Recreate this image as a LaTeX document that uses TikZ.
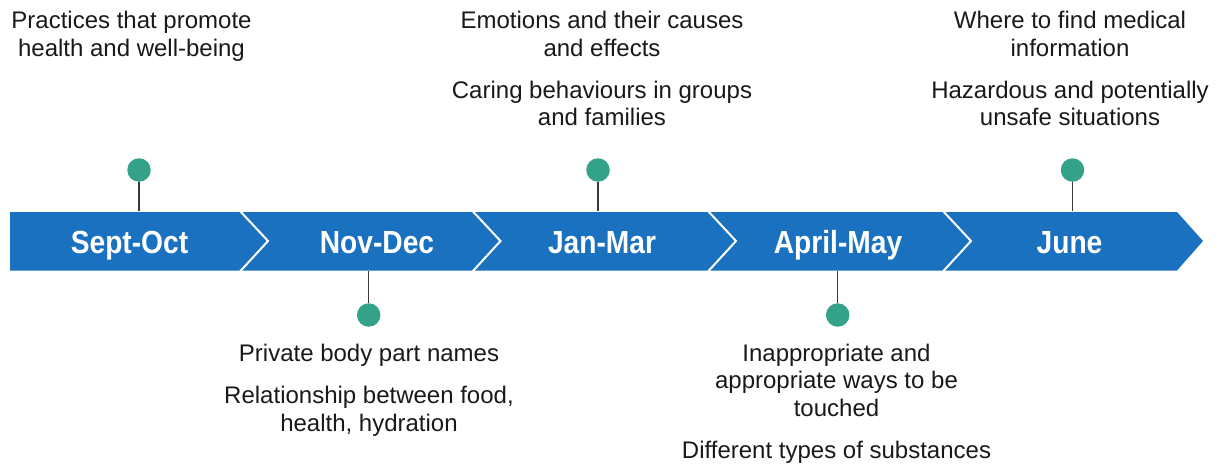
\documentclass[tikz,border=0pt]{standalone}
\usepackage{fontspec}
\setmainfont{Liberation Sans}
\newfontfamily\condbold[FakeStretch=0.88]{Liberation Sans Bold}
\definecolor{bandblue}{HTML}{1A71C0}
\definecolor{dotgreen}{HTML}{34A288}
\definecolor{stemgray}{HTML}{3A3A3A}
\tikzset{
  month/.style={anchor=base, text=white, inner sep=0pt, font=\condbold\fontsize{32}{36}\selectfont},
  topic/.style={anchor=base, align=center, inner sep=0pt, text=black!90, font=\fontsize{24}{27.5}\selectfont},
  pin/.style={circle, fill=dotgreen, minimum size=23.5pt, inner sep=0pt},
  stem/.style={draw=stemgray, line width=1.5pt},
  chev/.style={draw=white, line width=2pt},
}
\begin{document}
\begin{tikzpicture}[x=1pt, y=-1pt]
\useasboundingbox (0,0) rectangle (1222,466);
% band
\fill[bandblue] (10,212) -- (1177,212) -- (1203,241) -- (1177,270.5) -- (10,270.5) -- cycle;
\foreach \cx in {240,472.5,708,943}{
  \draw[chev] (\cx,211) -- (\cx+28,241) -- (\cx,271.5);
}
% month labels
\node[month] (m1) at (129.5,253) {Sept-Oct};
\node[month] (m2) at (377,253) {Nov-Dec};
\node[month] (m3) at (602,253) {Jan-Mar};
\node[month] (m4) at (838,253) {April-May};
\node[month] (m5) at (1069.5,253) {June};
% pins
\node[pin] (p1) at (139,170) {};
\node[pin] (p2) at (368.7,315) {};
\node[pin] (p3) at (598,170) {};
\node[pin] (p4) at (837.7,315) {};
\node[pin] (p5) at (1072.5,170) {};
\coordinate (b1) at (139,211);
\coordinate (b2) at (368.7,271);
\coordinate (b3) at (598,211);
\coordinate (b4) at (837.7,271);
\coordinate (b5) at (1072.5,211);
\draw[stem] (p1) -- (b1);
\draw[stem] (p2) -- (b2);
\draw[stem] (p3) -- (b3);
\draw[stem] (p4) -- (b4);
\draw[stem] (p5) -- (b5);
% topics (anchor = baseline of last line)
\node[topic] (t1) at (131.5,56) {Practices that promote\\health and well-being};
\node[topic] (t3) at (602,125.5) {Emotions and their causes\\and effects\\[14.5pt]Caring behaviours in groups\\and families};
\node[topic] (t5) at (1070,125.5) {Where to find medical\\information\\[14.5pt]Hazardous and potentially\\unsafe situations};
\node[topic] (t2) at (369,431) {Private body part names\\[14.5pt]Relationship between food,\\health, hydration};
\node[topic] (t4) at (836.5,458) {Inappropriate and\\appropriate ways to be\\touched\\[14.5pt]Different types of substances};
\end{tikzpicture}
\end{document}
